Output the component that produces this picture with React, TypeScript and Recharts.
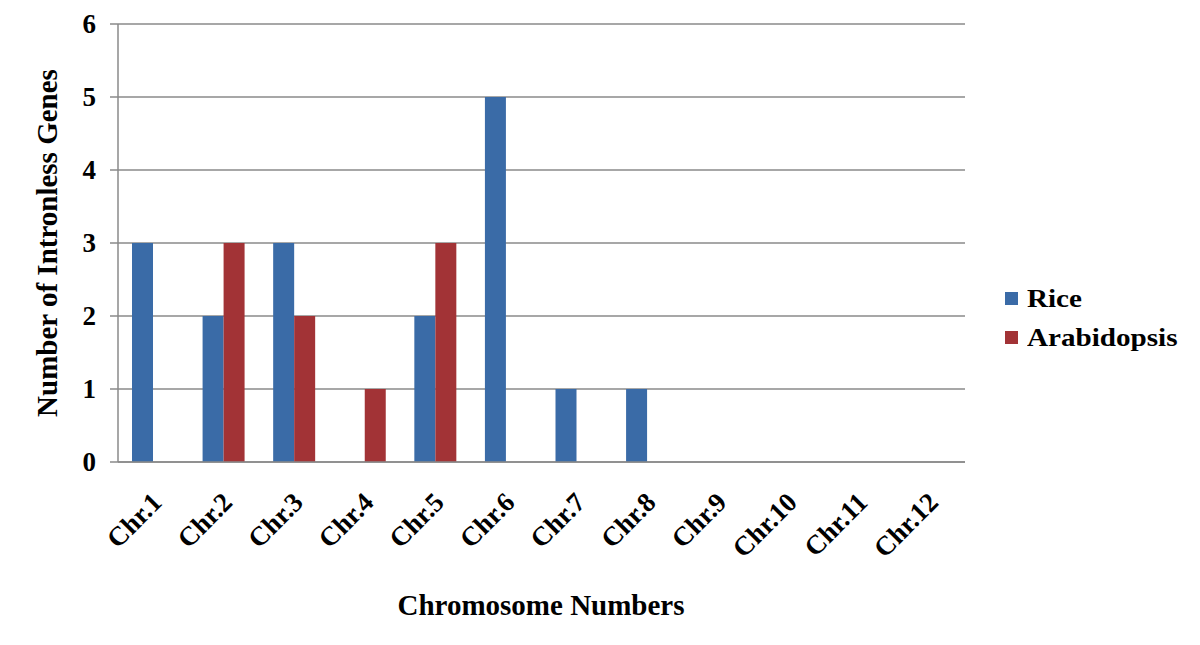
import { BarChart, Bar, XAxis, YAxis, CartesianGrid } from 'recharts'

const chromosomes = ['Chr.1', 'Chr.2', 'Chr.3', 'Chr.4', 'Chr.5', 'Chr.6', 'Chr.7', 'Chr.8', 'Chr.9', 'Chr.10', 'Chr.11', 'Chr.12']
const rice = [3, 2, 3, 0, 2, 5, 1, 1, 0, 0, 0, 0]
const arabidopsis = [0, 3, 2, 1, 3, 0, 0, 0, 0, 0, 0, 0]
const yTicks = [0, 1, 2, 3, 4, 5, 6]

const BLUE = '#3a6ba7'
const RED = '#a23336'
const GRID = '#8a8a8a'
const FONT = '"Liberation Serif", "Times New Roman", serif'

const data = chromosomes.map((name, i) => ({
  name,
  Rice: rice[i],
  Arabidopsis: arabidopsis[i]
}))

function XTick(props: any) {
  const { x, y, payload } = props
  return (
    <g transform={`translate(${x + 10},${y + 34})`}>
      <text
        x={0}
        y={0}
        textAnchor="end"
        transform="rotate(-45)"
        fontFamily={FONT}
        fontWeight="bold"
        fontSize={27}
        fill="#000"
      >
        {payload.value}
      </text>
    </g>
  )
}

function YTick(props: any) {
  const { x, y, payload } = props
  return (
    <text x={x} y={y} dy={9} textAnchor="end" fontFamily={FONT} fontWeight="bold" fontSize={27} fill="#000">
      {payload.value}
    </text>
  )
}

function LegendBox() {
  const items = [
    { label: 'Rice', color: BLUE },
    { label: 'Arabidopsis', color: RED }
  ]
  return (
    <div style={{ position: 'absolute', left: 1005, top: 279, fontFamily: FONT, fontWeight: 'bold', fontSize: 26 }}>
      {items.map((it) => (
        <div key={it.label} style={{ display: 'flex', alignItems: 'center', height: 39 }}>
          <span style={{ width: 13, height: 13, background: it.color, marginRight: 9, display: 'inline-block' }} />
          <span style={{ transform: 'scaleX(1.12)', transformOrigin: 'left center', display: 'inline-block' }}>{it.label}</span>
        </div>
      ))}
    </div>
  )
}

export default function App() {
  return (
    <div style={{ position: 'absolute', left: 0, top: 0, width: 1200, height: 645, background: '#fff' }}>
      <BarChart
        width={1200}
        height={645}
        data={data}
        margin={{ top: 24, right: 235, bottom: 33, left: 0 }}
        barGap={0}
        barSize={21}
      >
        <CartesianGrid vertical={false} stroke={GRID} strokeWidth={1.5} />
        <XAxis
          dataKey="name"
          height={150}
          tickLine={false}
          axisLine={{ stroke: GRID, strokeWidth: 1.5 }}
          tick={<XTick />}
          interval={0}
          label={{
            content: () => (
              <text x={541} y={615} textAnchor="middle" fontFamily={FONT} fontWeight="bold" fontSize={29} fill="#000">
                Chromosome Numbers
              </text>
            )
          }}
        />
        <YAxis
          width={118}
          domain={[0, 6]}
          ticks={yTicks}
          interval={0}
          tickSize={8}
          tickMargin={14}
          tickLine={{ stroke: GRID, strokeWidth: 1.5 }}
          axisLine={{ stroke: GRID, strokeWidth: 1.5 }}
          tick={<YTick />}
          label={{
            content: () => (
              <text
                x={0}
                y={0}
                transform="translate(57,243) rotate(-90)"
                textAnchor="middle"
                fontFamily={FONT}
                fontWeight="bold"
                fontSize={29}
                fill="#000"
              >
                Number of Intronless Genes
              </text>
            )
          }}
        />
        <Bar dataKey="Rice" fill={BLUE} isAnimationActive={false} />
        <Bar dataKey="Arabidopsis" fill={RED} isAnimationActive={false} />
      </BarChart>
      <LegendBox />
    </div>
  )
}
